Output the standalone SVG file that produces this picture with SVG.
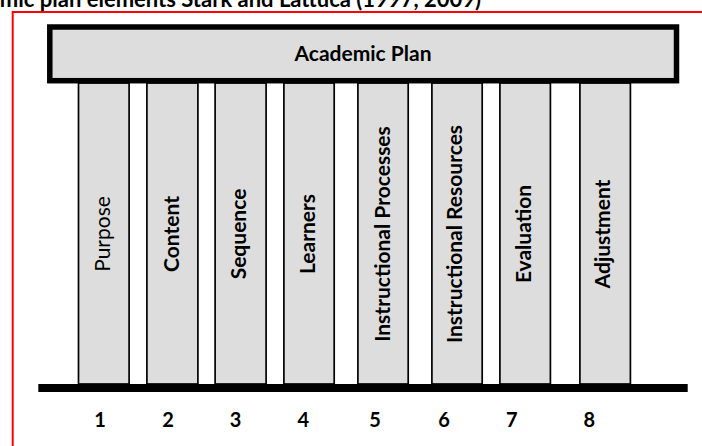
<svg xmlns="http://www.w3.org/2000/svg" width="702" height="446" viewBox="0 0 702 446">
<style>
  .col { fill: #dddddd; stroke: #000000; stroke-width: 1.7; }
  .lbl { font-family: Lato, "Liberation Sans", sans-serif; font-size: 21px; font-weight: bold; fill: #000000; text-anchor: middle; }
  .reg { font-weight: normal; }
  .num { font-family: Lato, "Liberation Sans", sans-serif; font-size: 20px; font-weight: bold; fill: #000000; text-anchor: middle; }
</style>
<rect x="0" y="0" width="702" height="446" fill="#ffffff"/>
<text x="481" y="6.5" class="lbl" style="text-anchor:end;font-size:22px">mic plan elements Stark and Lattuca (1997, 2009)</text>
<path d="M12.7 446 V12 H702" fill="none" stroke="#ff0000" stroke-width="2"/>
<g id="connectors"/>
<g id="col1"><rect class="col" x="78.5" y="83" width="50.6" height="301"/><text class="lbl reg" transform="translate(110 234) rotate(-90)">Purpose</text></g>
<g id="col2"><rect class="col" x="146.9" y="83" width="51" height="301"/><text class="lbl" transform="translate(178.5 234) rotate(-90)">Content</text></g>
<g id="col3"><rect class="col" x="215.1" y="83" width="51" height="301"/><text class="lbl" transform="translate(246 234) rotate(-90)">Sequence</text></g>
<g id="col4"><rect class="col" x="283.9" y="83" width="50.3" height="301"/><text class="lbl" transform="translate(314.5 234) rotate(-90)">Learners</text></g>
<g id="col5"><rect class="col" x="357.9" y="83" width="50.3" height="301"/><text class="lbl" transform="translate(390 234) rotate(-90)">Instructional Processes</text></g>
<g id="col6"><rect class="col" x="431.9" y="83" width="50.3" height="301"/><text class="lbl" transform="translate(462 234) rotate(-90)">Instructional Resources</text></g>
<g id="col7"><rect class="col" x="499.9" y="83" width="50.5" height="301"/><text class="lbl" transform="translate(531 234) rotate(-90)">Evaluation</text></g>
<g id="col8"><rect class="col" x="579.9" y="83" width="50.5" height="301"/><text class="lbl" transform="translate(609.5 234) rotate(-90)">Adjustment</text></g>
<g id="academic-plan"><rect x="49.8" y="27" width="626.7" height="53.7" fill="#dddddd" stroke="#000000" stroke-width="5.5"/><text class="lbl" x="363" y="61">Academic Plan</text></g>
<g id="base"><rect x="38.3" y="384" width="649.4" height="8" fill="#000000"/></g>
<g id="numbers">
<text class="num" x="100" y="426.5">1</text>
<text class="num" x="168" y="426.5">2</text>
<text class="num" x="235.5" y="426.5">3</text>
<text class="num" x="303.3" y="426.5">4</text>
<text class="num" x="375" y="426.5">5</text>
<text class="num" x="444" y="426.5">6</text>
<text class="num" x="511.7" y="426.5">7</text>
<text class="num" x="589.3" y="426.5">8</text>
</g>
</svg>
